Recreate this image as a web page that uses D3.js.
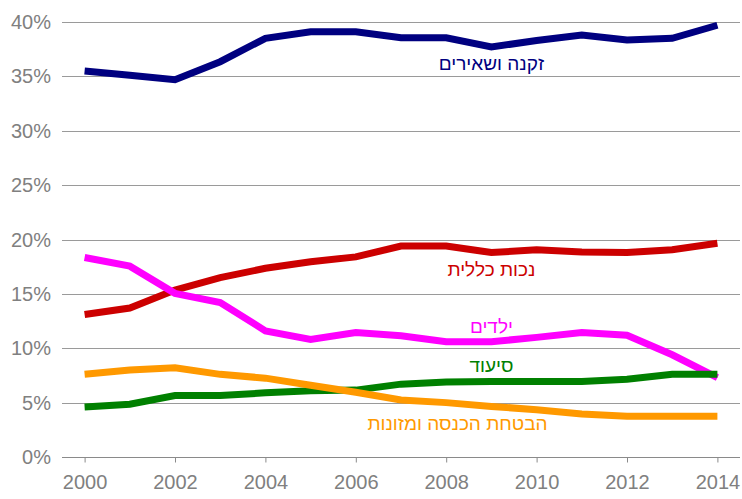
<!DOCTYPE html>
<html><head><meta charset="utf-8">
<script src="https://cdn.jsdelivr.net/npm/d3@7"></script>
<style>
html,body{margin:0;padding:0;background:#fff;}
svg{display:block;font-family:"Liberation Sans",Arial,sans-serif;}
</style></head>
<body>
<svg id="c" width="742" height="499"></svg>
<script>
const years = [2000,2001,2002,2003,2004,2005,2006,2007,2008,2009,2010,2011,2012,2013,2014];
const yTicks = [0,5,10,15,20,25,30,35,40];
const xTickYears = [2000,2002,2004,2006,2008,2010,2012,2014];
const seriesNames = ["זקנה ושאירים","נכות כללית","ילדים","סיעוד","הבטחת הכנסה ומזונות"];
const oldAge =   [35.5,35.1,34.7,36.35,38.5,39.1,39.1,38.55,38.55,37.7,38.3,38.8,38.35,38.5,39.7];
const disability=[13.1,13.7,15.35,16.5,17.35,17.95,18.4,19.4,19.4,18.8,19.05,18.85,18.8,19.05,19.65];
const children = [18.35,17.55,15.05,14.2,11.6,10.8,11.45,11.15,10.6,10.6,11.0,11.45,11.2,9.4,7.3];
const ltc =      [4.6,4.85,5.65,5.65,5.9,6.1,6.15,6.7,6.9,6.95,6.95,6.95,7.15,7.6,7.6];
const income =   [7.6,8.0,8.2,7.6,7.25,6.6,5.95,5.25,5.0,4.65,4.35,3.95,3.75,3.75,3.75];
const colors = ["#000080","#CC0000","#FF00FF","#008000","#FF9900"];
const allSeries = [oldAge,disability,children,ltc,income];
// label anchor (year position, value) for series names
const labelPos = [[2009.0,35.6],[2009.0,16.6],[2009.0,11.4],[2009.0,7.8],[2008.25,2.5]];

const svg = d3.select("#c");
const x = d3.scalePoint().domain(years).range([62,740]).padding(0.5);
const xl = d3.scaleLinear().domain([2000,2014]).range([x(2000),x(2014)]);
const y = d3.scaleLinear().domain([0,40]).range([457,22]);

// gridlines
svg.append("g").selectAll("line").data(yTicks.filter(d=>d>0)).join("line")
  .attr("x1",62).attr("x2",740)
  .attr("y1",d=>Math.round(y(d))+0.5).attr("y2",d=>Math.round(y(d))+0.5)
  .attr("stroke","#9a9a9a").attr("stroke-width",1);

// y labels
svg.append("g").selectAll("text").data(yTicks).join("text")
  .attr("x",51).attr("y",d=>y(d)+7)
  .attr("text-anchor","end").attr("font-size",20).attr("fill","#808080")
  .text(d=>d+"%");

// x axis
const xAxis = d3.axisBottom(x).tickValues(xTickYears).tickSize(5).tickSizeOuter(0).tickPadding(12);
const gx = svg.append("g").attr("transform",`translate(0,${Math.round(y(0))+0.5})`).call(xAxis);
gx.select(".domain").attr("stroke","#8a8a8a").attr("d","M62,0H740");
gx.selectAll(".tick line").attr("stroke","#8a8a8a");
gx.selectAll(".tick text").attr("font-size",20).attr("fill","#808080")
  .attr("font-family","Liberation Sans, Arial, sans-serif");

// lines
const line = d3.line().x((d,i)=>x(years[i])).y(d=>y(d));
allSeries.forEach((s,k)=>{
  svg.append("path").datum(s).attr("d",line)
    .attr("fill","none").attr("stroke",colors[k]).attr("stroke-width",7)
    .attr("stroke-linejoin","miter");
});

// series labels
svg.append("g").selectAll("text").data(seriesNames).join("text")
  .attr("x",(d,i)=>xl(labelPos[i][0])).attr("y",(d,i)=>y(labelPos[i][1]))
  .attr("text-anchor","middle").attr("direction","rtl").attr("font-size",19)
  .attr("fill",(d,i)=>colors[i]).text(d=>d);
</script>
</body></html>
